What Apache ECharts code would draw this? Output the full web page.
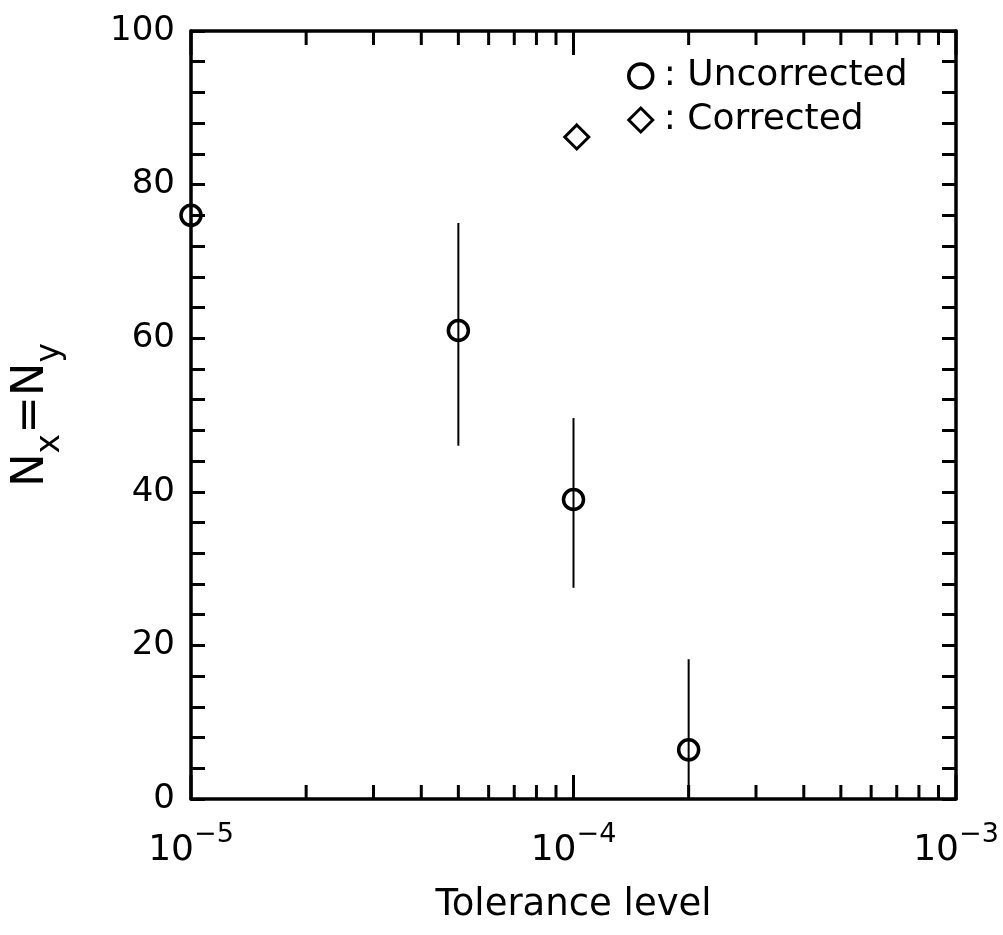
<!DOCTYPE html>
<html><head><meta charset="utf-8">
<script src="https://cdn.jsdelivr.net/npm/echarts@6/dist/echarts.min.js"></script>
<style>html,body{margin:0;background:#fff}#c{width:1003px;height:935px}</style>
</head><body><div id="c"></div>
<script>
// ---- data ----
const uncorrectedX = [1e-5, 5e-5, 1e-4, 2e-4];
const uncorrectedY = [76, 61, 39, 6.4];
const errorLow  = [76, 46, 27.5, 0];
const errorHigh = [76, 75, 49.6, 18.2];
const correctedX = [1.02e-4];
const correctedY = [86.2];
const xMinorTicks = [2e-5,3e-5,4e-5,5e-5,6e-5,7e-5,8e-5,9e-5,2e-4,3e-4,4e-4,5e-4,6e-4,7e-4,8e-4,9e-4];
const xMajorTicks = [1e-5, 1e-4, 1e-3];
const seriesNames = ['Uncorrected', 'Corrected'];

const FONT = 'DejaVu Sans';
const chart = echarts.init(document.getElementById('c'), null, {renderer: 'canvas'});

const axisLine = {show: true, onZero: false, lineStyle: {color: '#000', width: 3.5}};

const tickData = xMinorTicks.map(v => [v, 0, 100, 0]).concat(xMajorTicks.map(v => [v, 0, 100, 1]));

chart.setOption({
  animation: false,
  backgroundColor: '#fff',
  grid: {left: 191, right: 47, top: 31, bottom: 136, containLabel: false},
  legend: {
    orient: 'vertical', left: 622, top: 53, itemGap: 8,
    itemWidth: 24, itemHeight: 24,
    data: [
      {name: seriesNames[0], icon: 'circle', itemStyle: {color: 'rgba(0,0,0,0)', borderColor: '#000', borderWidth: 3.5}},
      {name: seriesNames[1], icon: 'diamond', itemStyle: {color: 'rgba(0,0,0,0)', borderColor: '#000', borderWidth: 3}}
    ],
    formatter: n => ': ' + n,
    textStyle: {fontFamily: FONT, fontSize: 36, color: '#000', padding: [0, 0, 0, 6]}
  },
  xAxis: [
    {
      type: 'log', logBase: 10, min: xMajorTicks[0], max: xMajorTicks[2], position: 'bottom',
      axisLine: axisLine, splitLine: {show: false},
      name: 'Tolerance level', nameLocation: 'middle', nameGap: 88,
      nameTextStyle: {fontFamily: FONT, fontSize: 37, color: '#000'},
      axisTick: {show: false},
      axisLabel: {
        margin: 22,
        formatter: v => '{b|10}{s|\u2212' + Math.round(-Math.log10(v)) + '}',
        rich: {
          b: {fontFamily: FONT, fontSize: 36, color: '#000', lineHeight: 48, verticalAlign: 'bottom'},
          s: {fontFamily: FONT, fontSize: 27, color: '#000', lineHeight: 27, verticalAlign: 'top'}
        }
      }
    },
    {
      type: 'log', logBase: 10, min: xMajorTicks[0], max: xMajorTicks[2], position: 'top',
      axisLine: axisLine, splitLine: {show: false},
      axisTick: {show: false},
      axisLabel: {show: false}
    }
  ],
  yAxis: [
    {
      type: 'value', min: 0, max: 100, interval: 20, position: 'left',
      axisLine: axisLine, splitLine: {show: false},
      name: '{n|N}{s|x}{n|=}{n|N}{s|y}', nameLocation: 'middle', nameGap: 124, nameRotate: 90,
      nameTextStyle: {
        rich: {
          n: {fontFamily: FONT, fontSize: 45, color: '#000', lineHeight: 58, verticalAlign: 'top'},
          s: {fontFamily: FONT, fontSize: 33, color: '#000', lineHeight: 33, verticalAlign: 'bottom'}
        }
      },
      axisTick: {show: true, inside: true, length: 14, lineStyle: {color: '#000', width: 3}},
      minorTick: {show: true, splitNumber: 5, length: 14, lineStyle: {color: '#000', width: 3}},
      axisLabel: {margin: 16, fontFamily: FONT, fontSize: 34, color: '#000'}
    },
    {
      type: 'value', min: 0, max: 100, interval: 20, position: 'right',
      axisLine: axisLine, splitLine: {show: false},
      axisTick: {show: true, inside: true, length: 14, lineStyle: {color: '#000', width: 3}},
      minorTick: {show: true, splitNumber: 5, length: 14, lineStyle: {color: '#000', width: 3}},
      axisLabel: {show: false}
    }
  ],
  series: [
    {
      type: 'custom', name: 'xTicks', silent: true, clip: false, z: 5,
      xAxisIndex: 0, yAxisIndex: 0,
      encode: {x: 0, y: [1, 2]},
      data: tickData,
      renderItem: function (params, api) {
        const v = api.value(0);
        const major = api.value(3) === 1;
        const len = major ? 24 : 14;
        const b = api.coord([v, api.value(1)]);
        const t = api.coord([v, api.value(2)]);
        const st = {stroke: '#000', lineWidth: 3, fill: null};
        return {type: 'group', children: [
          {type: 'line', shape: {x1: b[0], y1: b[1], x2: b[0], y2: b[1] - len}, style: st},
          {type: 'line', shape: {x1: t[0], y1: t[1], x2: t[0], y2: t[1] + len}, style: st}
        ]};
      }
    },
    {
      type: 'custom', name: 'errorBars', silent: true, clip: false, z: 2,
      xAxisIndex: 0, yAxisIndex: 0,
      encode: {x: 0, y: [1, 2]},
      data: uncorrectedX.map((x, i) => [x, errorLow[i], errorHigh[i]]),
      renderItem: function (params, api) {
        const x = api.value(0);
        const lo = api.coord([x, api.value(1)]);
        const hi = api.coord([x, api.value(2)]);
        return {type: 'line', shape: {x1: lo[0], y1: lo[1], x2: hi[0], y2: hi[1]},
          style: {stroke: '#000', lineWidth: 2}};
      }
    },
    {
      type: 'scatter', name: seriesNames[0], clip: false, z: 3,
      xAxisIndex: 0, yAxisIndex: 0,
      symbol: 'circle', symbolSize: 20,
      itemStyle: {color: 'rgba(0,0,0,0)', borderColor: '#000', borderWidth: 3.5, opacity: 1},
      data: uncorrectedX.map((x, i) => [x, uncorrectedY[i]])
    },
    {
      type: 'scatter', name: seriesNames[1], clip: false, z: 3,
      xAxisIndex: 0, yAxisIndex: 0,
      symbol: 'diamond', symbolSize: 24,
      itemStyle: {color: 'rgba(0,0,0,0)', borderColor: '#000', borderWidth: 3, opacity: 1},
      data: correctedX.map((x, i) => [x, correctedY[i]])
    }
  ]
});
</script>
</body></html>
